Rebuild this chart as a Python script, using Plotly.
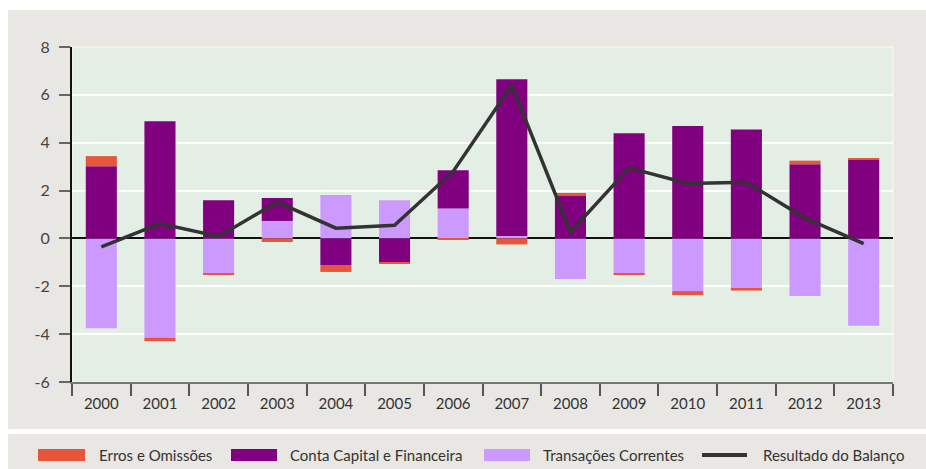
import plotly.graph_objects as go

years = ["2000", "2001", "2002", "2003", "2004", "2005", "2006",
         "2007", "2008", "2009", "2010", "2011", "2012", "2013"]
erros = [0.42, -0.14, -0.05, -0.15, -0.29, -0.08, -0.05,
         -0.25, 0.13, -0.05, -0.17, -0.08, 0.15, 0.05]
conta = [3.02, 4.90, 1.60, 0.96, -1.11, -0.99, 1.60,
         6.55, 1.77, 4.40, 4.70, 4.55, 3.10, 3.30]
transacoes = [-3.75, -4.15, -1.48, 0.73, 1.81, 1.60, 1.25,
              0.10, -1.70, -1.48, -2.20, -2.10, -2.41, -3.65]
resultado = [-0.35, 0.62, 0.08, 1.52, 0.43, 0.55, 2.80,
             6.40, 0.27, 2.95, 2.30, 2.35, 0.85, -0.22]
y_ticks = [-6, -4, -2, 0, 2, 4, 6, 8]

names = ["Erros e Omissões", "Conta Capital e Financeira",
         "Transações Correntes", "Resultado do Balanço"]
colors = ["#E8553A", "#800080", "#CC99FF", "#333333"]

FONT = "Lato, 'Open Sans', sans-serif"

fig = go.Figure()
fig.add_trace(go.Bar(x=years, y=transacoes, name=names[2],
                     marker=dict(color=colors[2], line=dict(width=0))))
fig.add_trace(go.Bar(x=years, y=conta, name=names[1],
                     marker=dict(color=colors[1], line=dict(width=0))))
fig.add_trace(go.Bar(x=years, y=erros, name=names[0],
                     marker=dict(color=colors[0], line=dict(width=0))))
fig.add_trace(go.Scatter(x=years, y=resultado, name=names[3], mode="lines",
                         line=dict(color=colors[3], width=3.5)))

L, R, T, B = 72, 893, 47, 382
W, H = 926, 469
pw, ph = R - L, B - T
def px(x): return (x - L) / pw
def py(y): return (B - y) / ph

shapes = [
    dict(type="rect", xref="paper", yref="paper", layer="below",
         x0=px(8), x1=px(926), y0=py(429), y1=py(10),
         fillcolor="#E9E7E3", line=dict(width=0)),
    dict(type="rect", xref="paper", yref="paper", layer="below",
         x0=px(8), x1=px(926), y0=py(469), y1=py(434),
         fillcolor="#E9E7E3", line=dict(width=0)),
    dict(type="rect", xref="paper", yref="paper", layer="below",
         x0=0, x1=1, y0=0, y1=1,
         fillcolor="#E3EFE5", line=dict(color="#F7F5E4", width=1.5)),
]

# custom legend (swatches + text) at the bottom
leg_sw = [(38, 85), (231, 277), (484, 530), (702, 747)]
leg_tx = [97, 288, 541, 761]
ly = 455
annotations = []
for i, (name, col) in enumerate(zip(names, colors)):
    x0, x1 = leg_sw[i]
    if i < 3:
        shapes.append(dict(type="rect", xref="paper", yref="paper",
                           x0=px(x0), x1=px(x1), y0=py(ly + 6), y1=py(ly - 6),
                           fillcolor=col, line=dict(width=0)))
    else:
        shapes.append(dict(type="line", xref="paper", yref="paper",
                           x0=px(x0), x1=px(x1), y0=py(ly), y1=py(ly),
                           line=dict(color=col, width=4)))
    annotations.append(dict(text=name, xref="paper", yref="paper",
                            x=px(leg_tx[i]), y=py(ly), xanchor="left", yanchor="middle",
                            showarrow=False,
                            font=dict(family=FONT, size=15, color="#333333")))

fig.update_layout(
    width=W, height=H,
    margin=dict(l=L, r=W - R, t=T, b=H - B),
    paper_bgcolor="white", plot_bgcolor="rgba(0,0,0,0)",
    barmode="relative", bargap=0.47,
    shapes=shapes, annotations=annotations,
    showlegend=False,
    font=dict(family=FONT, size=15, color="#444444"),
)
fig.update_xaxes(
    type="category", tickson="boundaries", ticks="outside", ticklen=12,
    tickwidth=1.5, tickcolor="#555555", showgrid=False,
    showline=True, linecolor="#777777", linewidth=2,
    ticklabelstandoff=7,
    tickfont=dict(family=FONT, size=15, color="#333333"),
)
fig.update_yaxes(
    range=[-6, 8], tickvals=y_ticks, ticktext=[str(v) for v in y_ticks],
    ticks="outside", ticklen=11, tickwidth=1.5, tickcolor="#666666",
    showgrid=True, gridcolor="white", gridwidth=1.5,
    zeroline=True, zerolinecolor="#111111", zerolinewidth=2,
    showline=True, linecolor="#111111", linewidth=2,
    ticklabelstandoff=6,
    tickfont=dict(family=FONT, size=16, color="#444444"),
)

fig.write_html("out.html", config={"displayModeBar": False},
               post_script="document.body.style.margin='0';document.body.style.overflow='hidden';")
